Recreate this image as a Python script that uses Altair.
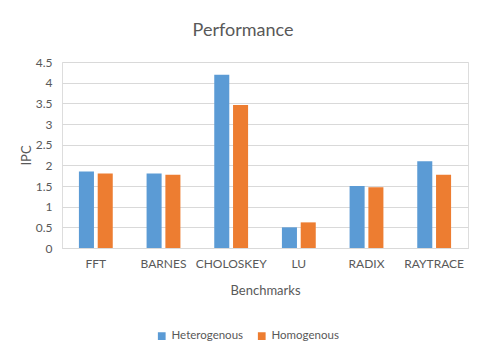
import altair as alt
import pandas as pd

benchmarks = ["FFT", "BARNES", "CHOLOSKEY", "LU", "RADIX", "RAYTRACE"]
heterogenous = [1.85, 1.80, 4.19, 0.50, 1.50, 2.10]
homogenous = [1.80, 1.77, 3.46, 0.62, 1.47, 1.77]
series = ["Heterogenous", "Homogenous"]
colors = ["#5B9BD5", "#ED7D31"]
y_ticks = [0, 0.5, 1, 1.5, 2, 2.5, 3, 3.5, 4, 4.5]

rows = []
for b, h, m in zip(benchmarks, heterogenous, homogenous):
    rows.append({"Benchmark": b, "Series": series[0], "IPC": h})
    rows.append({"Benchmark": b, "Series": series[1], "IPC": m})
df = pd.DataFrame(rows)

FONT = "Lato"
GRAY = "#595959"

chart = (
    alt.Chart(df)
    .mark_bar()
    .encode(
        x=alt.X(
            "Benchmark:N",
            sort=benchmarks,
            scale=alt.Scale(paddingInner=0.5, paddingOuter=0.25),
            axis=alt.Axis(
                title="Benchmarks",
                labelAngle=0,
                ticks=False,
                domain=True,
                domainColor="#d9d9d9",
                labelPadding=10,
                labelFontSize=12,
                labelColor=GRAY,
                labelFont=FONT,
                titleFont=FONT,
                titleFontSize=13,
                titleFontWeight="normal",
                titleColor=GRAY,
                titlePadding=15,
                grid=False,
            ),
        ),
        xOffset=alt.XOffset(
            "Series:N", sort=series, scale=alt.Scale(paddingInner=0.2)
        ),
        y=alt.Y(
            "IPC:Q",
            scale=alt.Scale(domain=[0, 4.5], nice=False),
            axis=alt.Axis(
                title="IPC",
                values=y_ticks,
                format="~g",
                ticks=False,
                domain=False,
                gridColor="#d9d9d9",
                gridWidth=1,
                labelPadding=10,
                labelFontSize=12,
                labelColor=GRAY,
                labelFont=FONT,
                titleFont=FONT,
                titleFontSize=13,
                titleFontWeight="normal",
                titleColor=GRAY,
                titlePadding=2,
            ),
        ),
        color=alt.Color(
            "Series:N",
            sort=series,
            scale=alt.Scale(domain=series, range=colors),
            legend=alt.Legend(
                title=None,
                orient="none",
                legendX=94,
                legendY=268,
                direction="horizontal",
                symbolType="square",
                symbolSize=60,
                symbolStrokeWidth=0,
                labelFont=FONT,
                labelFontSize=11.5,
                labelColor=GRAY,
                labelOffset=4,
                columnPadding=12,
            ),
        ),
    )
    .properties(
        width=406,
        height=186,
        autosize=alt.AutoSizeParams(type="none"),
        padding={"left": 54, "top": 54, "right": 9, "bottom": 104},
        title=alt.TitleParams(
            "Performance",
            font=FONT,
            fontSize=18,
            fontWeight="normal",
            color=GRAY,
            anchor="middle",
            offset=16,
            dx=-22,
        ),
    )
    .configure_view(stroke=None)
    .configure(background="white")
)

chart.save("out.html", embed_options={"renderer": "svg", "actions": False})
